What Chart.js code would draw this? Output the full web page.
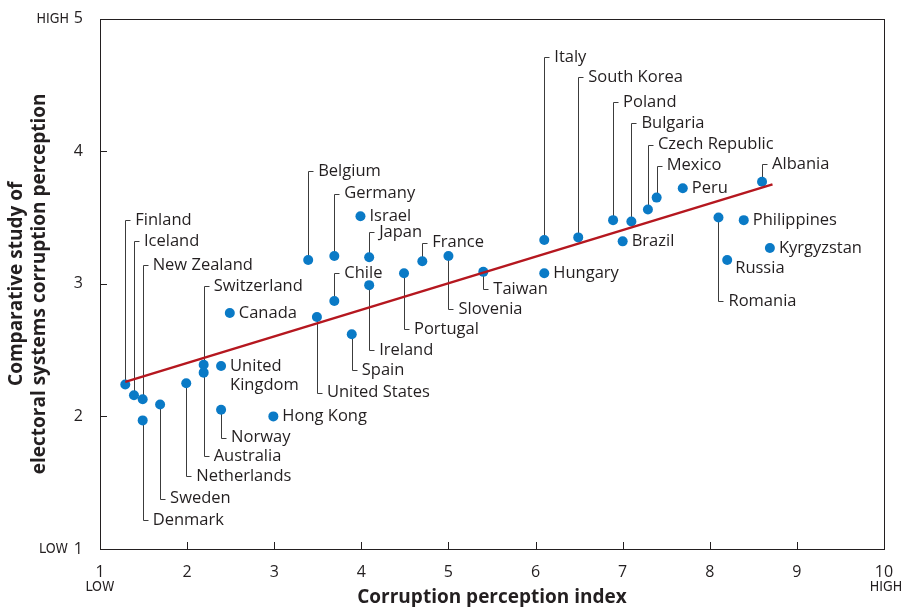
<!DOCTYPE html>
<html>
<head>
<meta charset="utf-8">
<title>Corruption perception</title>
<script src="https://cdn.jsdelivr.net/npm/chart.js@4.4.1/dist/chart.umd.min.js"></script>
<style>
  html, body { margin: 0; padding: 0; background: #fff; }
</style>
</head>
<body>
<canvas id="myChart" width="902" height="607"></canvas>
<script>
var countries = ['Finland', 'Iceland', 'New Zealand', 'Denmark', 'Sweden', 'Netherlands',
  'Switzerland', 'Australia', ['United', 'Kingdom'], 'Norway', 'Canada', 'Hong Kong',
  'Belgium', 'United States', 'Germany', 'Chile', 'Spain', 'Israel', 'Japan', 'Ireland',
  'Portugal', 'France', 'Slovenia', 'Taiwan', 'Italy', 'Hungary', 'South Korea', 'Poland',
  'Brazil', 'Bulgaria', 'Czech Republic', 'Mexico', 'Peru', 'Romania', 'Russia',
  'Philippines', 'Albania', 'Kyrgyzstan']

var corruptionIndex = [1.29, 1.39, 1.49, 1.49, 1.69, 1.99,
  2.19, 2.19, 2.39, 2.39, 2.49, 2.99,
  3.39, 3.49, 3.69, 3.69, 3.89, 3.99, 4.09, 4.09,
  4.49, 4.70, 5.00, 5.40, 6.10, 6.10, 6.49, 6.89,
  7.00, 7.10, 7.29, 7.39, 7.69, 8.10, 8.20,
  8.39, 8.60, 8.69]

var electoralScore = [2.24, 2.16, 2.13, 1.97, 2.09, 2.25,
  2.39, 2.33, 2.38, 2.05, 2.78, 2.00,
  3.18, 2.75, 3.21, 2.87, 2.62, 3.51, 3.20, 2.99,
  3.08, 3.17, 3.21, 3.09, 3.33, 3.08, 3.35, 3.48,
  3.32, 3.47, 3.56, 3.65, 3.72, 3.50, 3.18,
  3.48, 3.77, 3.27]

// where each name goes: 'r' = next to the dot, a number = leader line to that y value
var labelAt = [3.48, 3.32, 3.14, 1.22, 1.38, 1.55,
  2.98, 1.70, 'r', 1.84, 'r', 'r',
  3.85, 2.18, 3.68, 3.08, 2.35, 'r', 3.39, 2.50,
  2.66, 3.31, 2.81, 2.96, 4.71, 'r', 4.56, 4.37,
  'r', 4.21, 4.05, 3.89, 'r', 2.87, 3.12,
  'r', 3.90, 'r']

var trendX = [1.29, 8.72]
var trendY = [2.26, 3.75]

var xTicks = [1, 2, 3, 4, 5, 6, 7, 8, 9, 10]
var yTicks = [1, 2, 3, 4, 5]

var ink = '#231f20'
var font = '"Open Sans", "Noto Sans", sans-serif'

var annotate = {
  id: 'annotate',
  beforeDatasetsDraw(chart) {
    var c = chart.ctx
    var xs = chart.scales.x
    var ys = chart.scales.y
    var a = chart.chartArea
    c.save()
    // frame
    c.strokeStyle = ink
    c.lineWidth = 1
    c.strokeRect(Math.round(a.left) + 0.5, Math.round(a.top) + 0.5,
      Math.round(a.right - a.left), Math.round(a.bottom - a.top))
    // inner ticks
    c.beginPath()
    xTicks.forEach(function (v) {
      var px = Math.round(xs.getPixelForValue(v)) + 0.5
      c.moveTo(px, a.bottom)
      c.lineTo(px, a.bottom - 7)
    })
    yTicks.forEach(function (v) {
      var py = Math.round(ys.getPixelForValue(v)) + 0.5
      c.moveTo(a.left, py)
      c.lineTo(a.left + 7, py)
    })
    c.stroke()

    // leader lines
    c.strokeStyle = '#3c3c3c'
    c.beginPath()
    countries.forEach(function (name, i) {
      var lab = labelAt[i]
      if (lab === 'r' || i === 34) return
      var px = Math.round(xs.getPixelForValue(corruptionIndex[i])) + 0.5
      var py = ys.getPixelForValue(electoralScore[i])
      var ly = Math.round(ys.getPixelForValue(lab)) + 0.5
      c.moveTo(px, py)
      c.lineTo(px, ly)
      c.lineTo(px + 5, ly)
    })
    c.stroke()
    c.restore()
  },
  afterDatasetsDraw(chart) {
    var c = chart.ctx
    var xs = chart.scales.x
    var ys = chart.scales.y
    c.save()
    c.fillStyle = ink
    c.font = '16.5px ' + font
    c.textBaseline = 'middle'
    c.textAlign = 'left'
    countries.forEach(function (name, i) {
      var lab = labelAt[i]
      var px = xs.getPixelForValue(corruptionIndex[i])
      var tx, ty
      if (lab === 'r') {
        tx = px + 9
        ty = ys.getPixelForValue(electoralScore[i])
      } else if (i === 34) {
        tx = px + 8
        ty = ys.getPixelForValue(lab)
      } else {
        tx = px + 10
        ty = ys.getPixelForValue(lab)
      }
      var lines = Array.isArray(name) ? name : [name]
      lines.forEach(function (t, k) {
        c.fillText(t, tx, ty + k * 19)
      })
    })
    c.restore()
  },
  afterDraw(chart) {
    var c = chart.ctx
    var xs = chart.scales.x
    var ys = chart.scales.y
    var a = chart.chartArea
    c.save()
    c.fillStyle = ink
    c.font = '14px "Liberation Sans Narrow", "DejaVu Sans Condensed", sans-serif'
    c.textBaseline = 'middle'
    c.textAlign = 'right'
    c.fillText('HIGH', 69, ys.getPixelForValue(5) + 1)
    c.fillText('LOW', 68, ys.getPixelForValue(1))
    c.textAlign = 'center'
    c.fillText('LOW', xs.getPixelForValue(1), 587)
    c.fillText('HIGH', xs.getPixelForValue(10) + 2, 587)

    // axis titles
    c.font = 'bold 19px ' + font
    c.fillText('Corruption perception index', (a.left + a.right) / 2, 598)
    c.translate(0, (a.top + a.bottom) / 2)
    c.rotate(-Math.PI / 2)
    c.fillText('Comparative study of', 0, 17)
    c.fillText('electoral systems corruption perception', 0, 40)
    c.restore()
  }
}

var ctx = document.getElementById('myChart')

new Chart(ctx, {
  type: 'scatter',
  data: {
    datasets: [
      {
        type: 'line',
        data: trendX.map(function (x, i) { return { x: x, y: trendY[i] } }),
        borderColor: '#b5171f',
        borderWidth: 2.5,
        pointRadius: 0,
        order: 0
      },
      {
        data: corruptionIndex.map(function (x, i) { return { x: x, y: electoralScore[i] } }),
        backgroundColor: '#0a7ac6',
        borderWidth: 0,
        pointRadius: 5,
        order: 1
      }
    ]
  },
  options: {
    responsive: false,
    animation: false,
    layout: { padding: { top: 17, right: 18, left: 0, bottom: 0 } },
    plugins: { legend: { display: false }, tooltip: { enabled: false } },
    scales: {
      x: {
        type: 'linear',
        min: 1,
        max: 10,
        afterFit: function (s) { s.height = 58 },
        afterBuildTicks: function (s) { s.ticks = xTicks.map(function (v) { return { value: v } }) },
        grid: { display: false },
        border: { display: false },
        ticks: { color: ink, padding: 6, font: { family: font, size: 16 } }
      },
      y: {
        type: 'linear',
        min: 1,
        max: 5,
        afterFit: function (s) { s.width = 100 },
        afterBuildTicks: function (s) { s.ticks = yTicks.map(function (v) { return { value: v } }) },
        grid: { display: false },
        border: { display: false },
        ticks: { color: ink, padding: 9, font: { family: font, size: 16 } }
      }
    }
  },
  plugins: [annotate]
})
</script>
</body>
</html>
